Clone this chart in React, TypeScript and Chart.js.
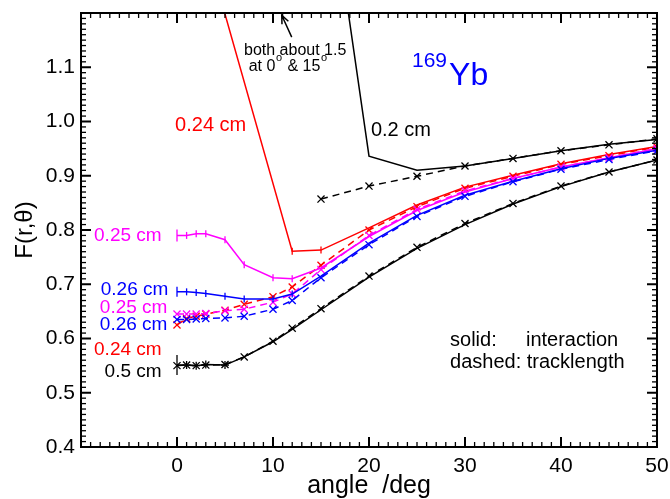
import { useEffect, useRef } from 'react';
import { Chart, registerables } from 'chart.js';

Chart.register(...registerables);

// ---------------- data ----------------
const anglesFull = [0, 1, 2, 3, 5, 7, 10, 12, 15, 20, 25, 30, 35, 40, 45, 50];
const angles02 = [15, 20, 25, 30, 35, 40, 45, 50];
const angles024Int = [0, 12, 15, 20, 25, 30, 35, 40, 45, 50];

const r05Interaction = [0.551, 0.551, 0.550, 0.552, 0.551, 0.566, 0.594, 0.617, 0.653, 0.713, 0.766, 0.810, 0.848, 0.880, 0.907, 0.929];
const r05Track = [0.550, 0.551, 0.550, 0.551, 0.552, 0.566, 0.595, 0.619, 0.655, 0.715, 0.768, 0.812, 0.849, 0.881, 0.907, 0.929];
const r02Interaction = [1.55, 0.936, 0.910, 0.918, 0.932, 0.946, 0.958, 0.967];
const r02Track = [0.857, 0.881, 0.899, 0.918, 0.932, 0.946, 0.957, 0.968];
const r024Interaction = [1.51, 0.761, 0.763, 0.804, 0.846, 0.879, 0.901, 0.922, 0.939, 0.954];
const r024Track = [0.625, 0.637, 0.641, 0.645, 0.652, 0.663, 0.677, 0.695, 0.735, 0.800, 0.843, 0.877, 0.899, 0.921, 0.937, 0.953];
const r025Interaction = [0.790, 0.790, 0.793, 0.793, 0.782, 0.736, 0.712, 0.710, 0.730, 0.788, 0.836, 0.870, 0.895, 0.916, 0.933, 0.950];
const r025Track = [0.645, 0.645, 0.645, 0.646, 0.651, 0.654, 0.667, 0.682, 0.727, 0.790, 0.838, 0.872, 0.895, 0.916, 0.933, 0.950];
const r026Interaction = [0.686, 0.686, 0.685, 0.683, 0.678, 0.673, 0.673, 0.682, 0.715, 0.776, 0.827, 0.864, 0.890, 0.913, 0.932, 0.947];
const r026Track = [0.635, 0.635, 0.636, 0.637, 0.638, 0.641, 0.654, 0.670, 0.712, 0.773, 0.825, 0.862, 0.889, 0.912, 0.930, 0.946];

const xTickValues = [-10, 0, 10, 20, 30, 40, 50];
const yTickLabels = ['0.4', '0.5', '0.6', '0.7', '0.8', '0.9', '1.0', '1.1'];

const X_MIN = -10;
const X_MAX = 50;
const Y_MIN = 0.4;
const Y_MAX = 1.2;

// ---------------- styles ----------------
const RED = '#ff0000';
const MAGENTA = '#ff00ff';
const BLUE = '#0000ff';
const BLACK = '#000000';
const FONT = '"Liberation Sans", Arial, Helvetica, sans-serif';

// annotation texts (anchored in data coordinates)
const curveLabels = [
  { text: '0.24 cm', color: RED, x: -0.2, y: 0.993, align: 'left', size: 20 },
  { text: '0.2 cm', color: BLACK, x: 20.2, y: 0.984, align: 'left', size: 20 },
  { text: '0.25 cm', color: MAGENTA, x: -1.6, y: 0.790, align: 'right', size: 19 },
  { text: '0.26 cm', color: BLUE, x: -0.9, y: 0.689, align: 'right', size: 19 },
  { text: '0.25 cm', color: MAGENTA, x: -1.0, y: 0.657, align: 'right', size: 19 },
  { text: '0.26 cm', color: BLUE, x: -1.0, y: 0.6247, align: 'right', size: 19 },
  { text: '0.24 cm', color: RED, x: -1.6, y: 0.5796, align: 'right', size: 19 },
  { text: '0.5 cm', color: BLACK, x: -1.6, y: 0.539, align: 'right', size: 19 },
];
const legendTexts = [
  { text: 'solid:', x: 28.44, y: 0.586 },
  { text: 'interaction', x: 36.35, y: 0.586 },
  { text: 'dashed: tracklength', x: 28.44, y: 0.546 },
];
const isotope = { mass: '169', symbol: 'Yb', x: 24.48, yMass: 1.0998, ySymbol: 1.0667 };
const note = { line1: 'both about 1.5', x1: 6.98, y1: 1.1219, x2: 7.47, y2: 1.093 };
const arrow = { fromX: 11.95, fromY: 1.1556, toX: 10.91, toY: 1.1959 };

function pts(xs: number[], ys: number[]) {
  return xs.map((x, i) => ({ x, y: ys[i] }));
}

function solidSet(xs: number[], ys: number[], color: string, errRadius: number, tickUntil: number) {
  return {
    data: pts(xs, ys),
    borderColor: color,
    backgroundColor: color,
    borderWidth: 1.5,
    pointStyle: 'line',
    pointRotation: 90,
    pointRadius: xs.map((x, i) => (i === 0 ? errRadius : x <= tickUntil ? 3.5 : 0)),
    pointBorderColor: color,
    pointBorderWidth: 1.3,
    pointHoverRadius: 0,
    tension: 0,
    fill: false,
  };
}

function dashedSet(xs: number[], ys: number[], color: string) {
  return {
    data: pts(xs, ys),
    borderColor: color,
    backgroundColor: color,
    borderWidth: 1.5,
    borderDash: [7, 5],
    pointStyle: 'crossRot',
    pointRadius: 5,
    pointBorderColor: color,
    pointBorderWidth: 1.3,
    pointHoverRadius: 0,
    tension: 0,
    fill: false,
  };
}

const framePlugin = {
  id: 'frameTicksAnnotations',
  afterDraw(chart: any) {
    const ctx = chart.ctx;
    const a = chart.chartArea;
    const xs = chart.scales.x;
    const ys = chart.scales.y;
    const px = (v: number) => xs.getPixelForValue(v);
    const py = (v: number) => ys.getPixelForValue(v);
    ctx.save();
    ctx.fillStyle = '#000000';
    // frame
    ctx.fillRect(a.left - 1, a.top - 1, a.right - a.left + 2, 2);
    ctx.fillRect(a.left - 1, a.bottom - 1, a.right - a.left + 2, 2);
    ctx.fillRect(a.left - 1, a.top - 1, 2, a.bottom - a.top + 2);
    ctx.fillRect(a.right - 1, a.top - 1, 2, a.bottom - a.top + 2);
    // x ticks (inward, top and bottom)
    for (let v = X_MIN; v <= X_MAX; v += 1) {
      const major = v % 10 === 0;
      const len = major ? 10 : 5;
      const w = major ? 2 : 1.3;
      const x = px(v);
      ctx.fillRect(x - w / 2, a.bottom - len, w, len);
      ctx.fillRect(x - w / 2, a.top, w, len);
    }
    // y ticks (inward, left and right)
    for (let i = 0; i <= 80; i++) {
      const v = Y_MIN + i * 0.01;
      const major = i % 10 === 0;
      const len = major ? 10 : 5;
      const w = major ? 2 : 1.3;
      const y = py(v);
      ctx.fillRect(a.left, y - w / 2, len, w);
      ctx.fillRect(a.right - len, y - w / 2, len, w);
    }

    // curve labels
    ctx.textBaseline = 'middle';
    curveLabels.forEach((l) => {
      ctx.font = `${l.size}px ${FONT}`;
      ctx.fillStyle = l.color;
      ctx.textAlign = l.align as CanvasTextAlign;
      ctx.fillText(l.text, px(l.x), py(l.y));
    });

    // legend text
    ctx.textBaseline = 'alphabetic';
    ctx.textAlign = 'left';
    ctx.fillStyle = BLACK;
    ctx.font = `20px ${FONT}`;
    legendTexts.forEach((t) => ctx.fillText(t.text, px(t.x), py(t.y)));

    // isotope
    ctx.fillStyle = BLUE;
    ctx.font = `21px ${FONT}`;
    const mx = px(isotope.x);
    ctx.fillText(isotope.mass, mx, py(isotope.yMass));
    const mw = ctx.measureText(isotope.mass).width;
    ctx.font = `32px ${FONT}`;
    ctx.fillText(isotope.symbol, mx + mw + 2, py(isotope.ySymbol));

    // note
    ctx.fillStyle = BLACK;
    ctx.font = `16px ${FONT}`;
    ctx.fillText(note.line1, px(note.x1), py(note.y1));
    let cx = px(note.x2);
    const by = py(note.y2);
    const parts: [string, boolean][] = [['at 0', false], ['o', true], [' & 15', false], ['o', true]];
    parts.forEach(([t, sup]) => {
      ctx.font = sup ? `11px ${FONT}` : `16px ${FONT}`;
      ctx.fillText(t, cx, sup ? by - 10.5 : by);
      cx += ctx.measureText(t).width + (sup ? 1 : 0.5);
    });

    // arrow
    const ax1 = px(arrow.fromX), ay1 = py(arrow.fromY);
    const ax2 = px(arrow.toX), ay2 = py(arrow.toY);
    ctx.strokeStyle = '#000';
    ctx.lineWidth = 1.5;
    ctx.setLineDash([]);
    ctx.beginPath();
    ctx.moveTo(ax1, ay1);
    ctx.lineTo(ax2, ay2);
    const ang = Math.atan2(ay2 - ay1, ax2 - ax1);
    const hl = 9;
    ctx.moveTo(ax2 - hl * Math.cos(ang - 0.4), ay2 - hl * Math.sin(ang - 0.4));
    ctx.lineTo(ax2, ay2);
    ctx.lineTo(ax2 - hl * Math.cos(ang + 0.4), ay2 - hl * Math.sin(ang + 0.4));
    ctx.stroke();
    ctx.restore();
  },
};

export default function App() {
  const ref = useRef<HTMLCanvasElement | null>(null);
  useEffect(() => {
    document.body.style.margin = '0';
    const canvas = ref.current;
    if (!canvas) return;
    const blackSolid: any = solidSet(anglesFull, r05Interaction, BLACK, 10, 5);
    blackSolid.pointStyle = anglesFull.map((x, i) => (i === 0 ? 'line' : x <= 5 ? 'cross' : 'line'));
    blackSolid.pointRotation = anglesFull.map((x, i) => (i === 0 ? 90 : x <= 5 ? 0 : 90));
    blackSolid.pointRadius = anglesFull.map((x, i) => (i === 0 ? 10 : x <= 5 ? 4 : 0));
    const chart = new Chart(canvas, {
      type: 'line',
      data: {
        datasets: [
          blackSolid,
          dashedSet(anglesFull, r05Track, BLACK) as any,
          solidSet(angles02, r02Interaction, BLACK, 0, 0) as any,
          dashedSet(angles02, r02Track, BLACK) as any,
          solidSet(anglesFull, r026Interaction, BLUE, 5, 12) as any,
          dashedSet(anglesFull, r026Track, BLUE) as any,
          solidSet(anglesFull, r025Interaction, MAGENTA, 6, 12) as any,
          dashedSet(anglesFull, r025Track, MAGENTA) as any,
          solidSet(angles024Int, r024Interaction, RED, 0, 15) as any,
          dashedSet(anglesFull, r024Track, RED) as any,
        ],
      },
      options: {
        animation: false,
        responsive: false,
        maintainAspectRatio: false,
        events: [],
        layout: { padding: { left: 0, right: 13, top: 13, bottom: 0 } },
        plugins: { legend: { display: false }, tooltip: { enabled: false }, title: { display: false } },
        scales: {
          x: {
            type: 'linear',
            min: X_MIN,
            max: X_MAX,
            grid: { display: false, drawTicks: false },
            border: { display: false },
            afterBuildTicks: (scale: any) => {
              scale.ticks = xTickValues.map((v) => ({ value: v }));
            },
            ticks: {
              autoSkip: false,
              maxRotation: 0,
              padding: 7,
              color: BLACK,
              font: { family: FONT, size: 21 },
              callback: (v: any) => (Number(v) === X_MIN ? '' : String(v)),
            },
            title: {
              display: true,
              text: 'angle  /deg',
              color: BLACK,
              font: { family: FONT, size: 25, lineHeight: 1 },
              padding: { top: 0, bottom: 0 },
            },
            afterFit: (scale: any) => {
              scale.height = 52;
              scale.paddingLeft = 0;
              scale.paddingRight = 0;
            },
          },
          y: {
            type: 'linear',
            min: Y_MIN,
            max: Y_MAX,
            grid: { display: false, drawTicks: false },
            border: { display: false },
            afterBuildTicks: (scale: any) => {
              scale.ticks = yTickLabels.map((s) => ({ value: Number(s) }));
            },
            ticks: {
              autoSkip: false,
              padding: 6,
              color: BLACK,
              font: { family: FONT, size: 21 },
              callback: (v: any) => Number(v).toFixed(1),
            },
            title: {
              display: true,
              text: 'F(r,θ)',
              color: BLACK,
              font: { family: FONT, size: 24, lineHeight: 1 },
              padding: { top: 13, bottom: 0 },
            },
            afterFit: (scale: any) => {
              scale.width = 81;
              scale.paddingTop = 0;
              scale.paddingBottom = 0;
            },
          },
        },
      },
      plugins: [framePlugin],
    });
    return () => chart.destroy();
  }, []);
  return (
    <div style={{ width: 670, height: 499, background: '#fff' }}>
      <canvas ref={ref} width={670} height={499} style={{ display: 'block', width: 670, height: 499 }} />
    </div>
  );
}
